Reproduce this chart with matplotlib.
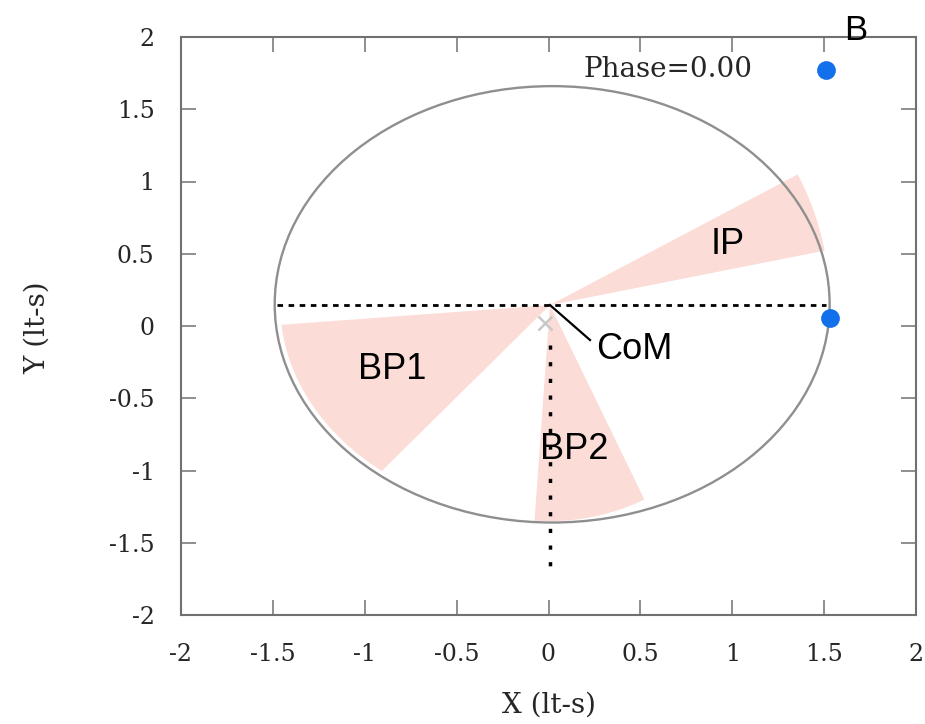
import numpy as np
import matplotlib
matplotlib.use("Agg")
import matplotlib.pyplot as plt
from matplotlib.patches import Ellipse, Polygon

# ---- geometry of the binary (units: light-seconds) ----
orbit_center = (0.02, 0.15)
orbit_radius = 1.51

com_point = (0.008, 0.145)      # centre of mass, apex of the emission sectors
com_marker = (-0.02, 0.02)

star_x = [1.51, 1.53]
star_y = [1.77, 0.055]

node_line_x = [-1.48, 1.51]
node_line_y = [0.145, 0.145]

sight_line_x = [0.008, 0.008]
sight_line_y = [-0.13, -1.69]

# emission sectors: angular range (deg) and reach
ip_angles = (11.2, 27.8)
ip_reach = 1.524
bp2_angles = (265.9, 295.9)
bp2_reach = 1.176
bp1_angles = (185.5, 231.2)     # about the orbit centre, bounded by the orbit
bp1_reach = 1.48

tick_values = [-2, -1.5, -1, -0.5, 0, 0.5, 1, 1.5, 2]
tick_labels = ["-2", "-1.5", "-1", "-0.5", "0", "0.5", "1", "1.5", "2"]

phase_text = "Phase=0.00"

# ---- figure ----
W, H = 925, 724
fig = plt.figure(figsize=(W / 100, H / 100), dpi=100)
left_px, right_px, top_px, bottom_px = 181, 916, 37, 615
ax = fig.add_axes([left_px / W, 1 - bottom_px / H,
                   (right_px - left_px) / W, (bottom_px - top_px) / H])
ax.set_xlim(-2, 2)
ax.set_ylim(-2, 2)

# ratio of screen scale x / y, so sectors look circular on the page
k = ((right_px - left_px) / 4) / ((bottom_px - top_px) / 4)

pink = "#fcdcd7"
serif = ["DejaVu Serif"]
sans = ["Liberation Sans", "DejaVu Sans"]
txt_gray = "#262626"


def screen_sector(apex, angles, reach, n=60):
    t = np.radians(np.linspace(angles[0], angles[1], n))
    xs = apex[0] + reach * np.cos(t)
    ys = apex[1] + reach * np.sin(t) * k
    return np.column_stack([np.r_[apex[0], xs], np.r_[apex[1], ys]])


def orbit_sector(apex, center, angles, reach, n=60):
    t = np.radians(np.linspace(angles[0], angles[1], n))
    xs = center[0] + reach * np.cos(t)
    ys = center[1] + reach * np.sin(t)
    return np.column_stack([np.r_[apex[0], xs], np.r_[apex[1], ys]])


for verts in (screen_sector(com_point, ip_angles, ip_reach),
              screen_sector(com_point, bp2_angles, bp2_reach),
              orbit_sector(com_point, orbit_center, bp1_angles, bp1_reach)):
    ax.add_patch(Polygon(verts, closed=True, facecolor=pink,
                         edgecolor="none", zorder=1))

# orbit
ax.add_patch(Ellipse(orbit_center, 2 * orbit_radius, 2 * orbit_radius,
                     fill=False, edgecolor="#8f8f8f", lw=1.7, zorder=2))

# line of nodes and line of sight
ax.plot(node_line_x, node_line_y, color="black", lw=2.0,
        dashes=(2, 2), dash_capstyle="butt", zorder=3)
ax.plot(sight_line_x, sight_line_y, color="black", lw=2.5,
        dashes=(1.2, 3.6), dash_capstyle="butt", zorder=3)

# centre of mass
ax.plot([com_marker[0]], [com_marker[1]], marker="x", color="#c8c8c8",
        ms=10, mew=1.8, zorder=3)

# companion positions
ax.plot(star_x, star_y, "o", color="#1170ea", ms=13.5, mec="none", zorder=4)

# annotations
ax.text(0.65, 1.772, phase_text, family=serif, fontsize=20,
        color=txt_gray, ha="center", va="center", zorder=5)
ax.text(1.673, 2.048, "B", family=sans, fontsize=25, color="black",
        ha="center", va="center", clip_on=False, zorder=5)
ax.text(0.977, 0.567, "IP", family=sans, fontsize=26, color="black",
        ha="center", va="center", zorder=5)
ax.text(-0.852, -0.304, "BP1", family=sans, fontsize=26, color="black",
        ha="center", va="center", zorder=5)
ax.text(0.139, -0.858, "BP2", family=sans, fontsize=26, color="black",
        ha="center", va="center", zorder=5)
ax.text(0.465, -0.166, "CoM", family=sans, fontsize=26, color="black",
        ha="center", va="center", zorder=5)
ax.plot([com_point[0], 0.226], [com_point[1], -0.097], color="black",
        lw=1.6, zorder=5)

# axes styling
for s in ax.spines.values():
    s.set_color("#707070")
    s.set_linewidth(1.5)
ax.set_xticks(tick_values)
ax.set_yticks(tick_values)
ax.set_xticklabels(tick_labels, family=serif, fontsize=17, color=txt_gray)
ax.set_yticklabels(tick_labels, family=serif, fontsize=17, color=txt_gray)
ax.tick_params(axis="both", direction="in", length=10.5, width=1.1,
               color="#707070", top=True, right=True)
ax.tick_params(axis="x", pad=20)
ax.tick_params(axis="y", pad=19)

ax.set_xlabel("X (lt-s)", family=serif, fontsize=20, color=txt_gray)
ax.set_ylabel("Y (lt-s)", family=serif, fontsize=20, color=txt_gray)
ax.xaxis.label.set_va("center")
ax.yaxis.label.set_va("center")
ax.xaxis.set_label_coords(0.5, -0.156)
ax.yaxis.set_label_coords(-0.196, 0.4965)

fig.savefig("out.png", dpi=100)
